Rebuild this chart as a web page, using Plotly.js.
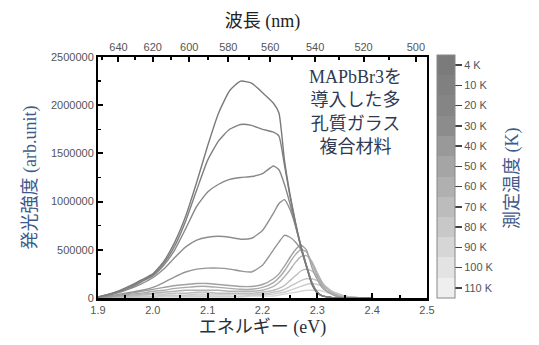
<!DOCTYPE html>
<html>
<head>
<meta charset="utf-8">
<script src="https://cdn.plot.ly/plotly-3.0.1.min.js"></script>
<style>html,body{margin:0;padding:0;background:#fff;}#chart{width:539px;height:345px;}</style>
</head>
<body>
<div id="chart"></div>
<script>
// ---- data ----
const energy = [1.90,1.92,1.94,1.96,1.98,2.00,2.02,2.04,2.06,2.08,2.10,2.12,2.14,2.16,2.18,2.20,2.22,2.23,2.24,2.25,2.26,2.27,2.28,2.29,2.30,2.31,2.32,2.33,2.34,2.35,2.36,2.38,2.40];
const temperatures = ['4 K','10 K','20 K','30 K','40 K','50 K','60 K','70 K','80 K','90 K','100 K','110 K'];
const pl4K   = [0.01e6,0.04e6,0.08e6,0.13e6,0.19e6,0.25e6,0.38e6,0.58e6,0.85e6,1.20e6,1.58e6,1.92e6,2.15e6,2.25e6,2.23e6,2.13e6,2.02e6,1.92e6,1.43e6,1.08e6,0.79e6,0.54e6,0.33e6,0.14e6,0.05e6,0.02e6,0.01e6,0,0,0,0,0,0];
const pl10K  = [0.01e6,0.04e6,0.07e6,0.12e6,0.18e6,0.24e6,0.36e6,0.54e6,0.80e6,1.12e6,1.43e6,1.63e6,1.75e6,1.80e6,1.79e6,1.75e6,1.72e6,1.68e6,1.38e6,1.06e6,0.78e6,0.53e6,0.33e6,0.15e6,0.06e6,0.02e6,0.01e6,0,0,0,0,0,0];
const pl20K  = [0.01e6,0.03e6,0.07e6,0.11e6,0.17e6,0.23e6,0.34e6,0.50e6,0.72e6,0.95e6,1.10e6,1.18e6,1.23e6,1.25e6,1.26e6,1.29e6,1.37e6,1.33e6,1.18e6,0.98e6,0.76e6,0.53e6,0.34e6,0.16e6,0.06e6,0.02e6,0.01e6,0,0,0,0,0,0];
const pl30K  = [0.01e6,0.03e6,0.06e6,0.10e6,0.15e6,0.21e6,0.30e6,0.42e6,0.53e6,0.60e6,0.63e6,0.64e6,0.63e6,0.61e6,0.62e6,0.70e6,0.88e6,0.98e6,1.02e6,0.92e6,0.75e6,0.54e6,0.34e6,0.16e6,0.06e6,0.02e6,0.01e6,0,0,0,0,0,0];
const pl40K  = [0.01e6,0.02e6,0.04e6,0.06e6,0.08e6,0.11e6,0.16e6,0.22e6,0.27e6,0.30e6,0.31e6,0.31e6,0.30e6,0.28e6,0.27e6,0.34e6,0.50e6,0.58e6,0.65e6,0.63e6,0.58e6,0.50e6,0.33e6,0.16e6,0.06e6,0.02e6,0.01e6,0,0,0,0,0,0];
const pl50K  = [0,0.01e6,0.03e6,0.05e6,0.07e6,0.09e6,0.11e6,0.13e6,0.14e6,0.15e6,0.15e6,0.14e6,0.13e6,0.12e6,0.12e6,0.14e6,0.20e6,0.25e6,0.33e6,0.42e6,0.50e6,0.55e6,0.50e6,0.32e6,0.19e6,0.10e6,0.06e6,0.03e6,0.01e6,0,0,0,0];
const pl60K  = [0,0.01e6,0.02e6,0.04e6,0.05e6,0.07e6,0.08e6,0.10e6,0.11e6,0.12e6,0.12e6,0.11e6,0.10e6,0.09e6,0.09e6,0.11e6,0.16e6,0.21e6,0.28e6,0.37e6,0.45e6,0.50e6,0.48e6,0.36e6,0.23e6,0.12e6,0.06e6,0.03e6,0.01e6,0,0,0,0];
const pl70K  = [0,0.01e6,0.02e6,0.03e6,0.04e6,0.05e6,0.06e6,0.07e6,0.08e6,0.08e6,0.08e6,0.08e6,0.07e6,0.07e6,0.07e6,0.08e6,0.12e6,0.16e6,0.22e6,0.29e6,0.37e6,0.43e6,0.44e6,0.38e6,0.26e6,0.15e6,0.08e6,0.04e6,0.02e6,0.01e6,0,0,0];
const pl80K  = [0,0,0.01e6,0.02e6,0.03e6,0.04e6,0.04e6,0.05e6,0.05e6,0.06e6,0.06e6,0.05e6,0.05e6,0.05e6,0.05e6,0.06e6,0.08e6,0.10e6,0.13e6,0.18e6,0.23e6,0.28e6,0.30e6,0.28e6,0.22e6,0.15e6,0.09e6,0.05e6,0.03e6,0.02e6,0.01e6,0,0];
const pl90K  = [0,0,0.01e6,0.01e6,0.02e6,0.02e6,0.03e6,0.03e6,0.03e6,0.04e6,0.04e6,0.04e6,0.04e6,0.04e6,0.04e6,0.04e6,0.06e6,0.07e6,0.09e6,0.12e6,0.15e6,0.18e6,0.20e6,0.20e6,0.18e6,0.14e6,0.10e6,0.06e6,0.04e6,0.02e6,0.01e6,0,0];
const pl100K = [0,0,0,0.01e6,0.01e6,0.01e6,0.02e6,0.02e6,0.02e6,0.02e6,0.02e6,0.02e6,0.02e6,0.02e6,0.03e6,0.03e6,0.04e6,0.05e6,0.06e6,0.08e6,0.10e6,0.12e6,0.14e6,0.15e6,0.14e6,0.12e6,0.09e6,0.06e6,0.04e6,0.02e6,0.01e6,0,0];
const pl110K = [0,0,0,0,0.01e6,0.01e6,0.01e6,0.01e6,0.01e6,0.01e6,0.01e6,0.01e6,0.01e6,0.01e6,0.02e6,0.02e6,0.02e6,0.03e6,0.04e6,0.05e6,0.06e6,0.07e6,0.08e6,0.08e6,0.08e6,0.07e6,0.05e6,0.04e6,0.02e6,0.01e6,0.01e6,0,0];
const wavelengthTicks = [650,640,630,620,610,600,590,580,570,560,550,540,530,520,510,500];
const wavelengthLabels = [640,620,600,580,560,540,520,500];
const yTicks = [0,500000,1000000,1500000,2000000,2500000];

// ---- styles ----
const series = [pl4K,pl10K,pl20K,pl30K,pl40K,pl50K,pl60K,pl70K,pl80K,pl90K,pl100K,pl110K];
const lineColors = ['#7a7a7a','#808080','#878787','#8d8d8d','#959595','#a0a0a0','#a9a9a9','#b2b2b2','#bcbcbc','#c5c5c5','#cdcdcd','#d5d5d5'];
const bandColors = ['#7b7b7b','#808080','#858585','#8c8c8c','#999999','#a5a5a5','#b0b0b0','#bcbcbc','#c8c8c8','#d6d6d6','#e3e3e3','#efefef'];
const cjk = "'Liberation Serif', 'Noto Sans CJK JP', serif";
const tickFont = {family: "'Liberation Sans', Arial, sans-serif", size: 11, color: '#555'};

const traces = [];
for (let i = series.length - 1; i >= 0; i--) {
  traces.push({
    x: energy, y: series[i], type: 'scatter', mode: 'lines',
    line: {color: lineColors[i], width: 1.4, shape: 'spline', smoothing: 0.5},
    name: temperatures[i], showlegend: false, hoverinfo: 'skip'
  });
}
// discrete colour scale (bottom = 110 K light, top = 4 K dark)
const n = temperatures.length;
const colorscale = [];
for (let k = 0; k < n; k++) {
  const c = bandColors[n - 1 - k];
  colorscale.push([k / n, c]);
  colorscale.push([(k + 1) / n, c]);
}
traces.push({
  x: [3], y: [-1e6], type: 'scatter', mode: 'markers', showlegend: false, hoverinfo: 'skip',
  marker: {
    color: [0], cmin: -0.5, cmax: n - 0.5, colorscale: colorscale, showscale: true, size: 1,
    colorbar: {
      x: (437 - 98) / 329, xanchor: 'left', xpad: 0, ypad: 0,
      y: (298 - 176.5) / 241, yanchor: 'middle',
      thickness: 18, thicknessmode: 'pixels', len: 243, lenmode: 'pixels',
      outlinecolor: '#888', outlinewidth: 1,
      tickmode: 'array',
      tickvals: temperatures.map((t, k) => k),
      ticktext: temperatures.slice().reverse(),
      ticks: 'outside', ticklen: 7, tickwidth: 1.5, tickcolor: '#444',
      tickfont: tickFont
    }
  }
});
// dummy trace for the wavelength axis
traces.push({x: [2.0], y: [-1e6], xaxis: 'x2', type: 'scatter', mode: 'markers', showlegend: false, hoverinfo: 'skip', marker: {size: 1}});

const layout = {
  width: 539, height: 345, autosize: false,
  margin: {l: 98, r: 112, t: 57, b: 47, pad: 0},
  paper_bgcolor: '#fff', plot_bgcolor: '#fff',
  xaxis: {
    range: [1.9, 2.5], dtick: 0.1, tick0: 1.9, tickformat: '.1f',
    showgrid: false, zeroline: false, showline: true, linecolor: '#000', linewidth: 3,
    ticks: 'inside', ticklen: 5, tickwidth: 2, tickcolor: '#000',
    minor: {dtick: 0.05, ticks: 'inside', ticklen: 3, tickwidth: 2, tickcolor: '#000'},
    tickfont: tickFont,
    title: {text: 'エネルギー (eV)', font: {family: cjk, size: 18, color: '#2b2f3a'}, standoff: 6}
  },
  xaxis2: {
    overlaying: 'x', side: 'top', range: [1.9, 2.5],
    tickmode: 'array',
    tickvals: wavelengthLabels.map(w => 1239.84 / w),
    ticktext: wavelengthLabels.map(String),
    minor: {tickmode: 'array', tickvals: wavelengthTicks.filter(w => wavelengthLabels.indexOf(w) < 0).map(w => 1239.84 / w), ticks: 'inside', ticklen: 3, tickwidth: 2, tickcolor: '#000'},
    showgrid: false, zeroline: false, showline: true, linecolor: '#000', linewidth: 2,
    ticks: 'inside', ticklen: 5, tickwidth: 2, tickcolor: '#000',
    tickfont: tickFont,
    title: {text: '波長 (nm)', font: {family: cjk, size: 18, color: '#222'}, standoff: 8}
  },
  yaxis: {
    range: [0, 2500000], tickmode: 'array', tickvals: yTicks, tickformat: 'd',
    showgrid: false, zeroline: false, showline: true, mirror: true, linecolor: '#000', linewidth: 2,
    ticks: 'inside', ticklen: 5, tickwidth: 2, tickcolor: '#000',
    minor: {dtick: 250000, ticks: 'inside', ticklen: 3, tickwidth: 1.5, tickcolor: '#000'},
    tickfont: tickFont,
    title: {text: '発光強度 (arb.unit)', font: {family: cjk, size: 18, color: '#3d5a8a'}, standoff: 10}
  },
  annotations: [
    {
      xref: 'paper', yref: 'paper', x: (355 - 98) / 329, y: (298 - 112) / 241,
      xanchor: 'center', yanchor: 'middle', showarrow: false, align: 'center',
      text: 'MAPbBr3を<br>導入した多<br>孔質ガラス<br>複合材料',
      font: {family: cjk, size: 18, color: '#2e3a52'}
    },
    {
      xref: 'paper', yref: 'paper', x: (512 - 98) / 329, y: (298 - 178) / 241,
      xanchor: 'center', yanchor: 'middle', showarrow: false, textangle: -90,
      text: '測定温度 (K)',
      font: {family: cjk, size: 18, color: '#3d5a8a'}
    }
  ]
};

Plotly.newPlot('chart', traces, layout, {displayModeBar: false, staticPlot: true});
</script>
</body>
</html>
